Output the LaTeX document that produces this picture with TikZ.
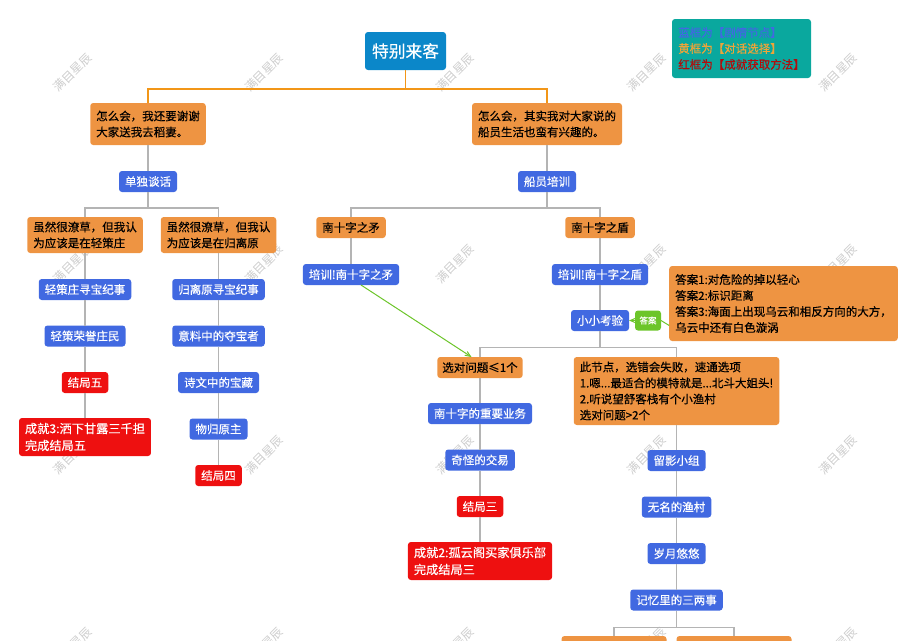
\documentclass[tikz,border=0pt]{standalone}
\usepackage{fontspec}
\setmainfont[FakeBold=0.35]{Noto Sans CJK SC}
\newfontfamily\stampfont{Noto Sans CJK SC}
\usepackage{tikz}
\usetikzlibrary{arrows,positioning}
\definecolor{rootblue}{RGB}{11, 135, 201}
\definecolor{plotblue}{RGB}{65, 105, 225}
\definecolor{talkorange}{RGB}{238, 148, 66}
\definecolor{endred}{RGB}{238, 16, 16}
\definecolor{hintgreen}{RGB}{108, 197, 42}
\definecolor{noteteal}{RGB}{10, 168, 158}
\definecolor{edgegray}{RGB}{180, 180, 180}
\definecolor{rootline}{RGB}{242, 150, 24}
\definecolor{stampgray}{RGB}{205, 205, 205}
\tikzstyle{box} = [rounded corners=3pt, outer sep=0pt, inner xsep=6pt, inner ysep=2pt, minimum height=21pt, align=left, font=\fontsize{11.5}{16}\selectfont]
\tikzstyle{scene} = [box, fill=plotblue, text=white]
\tikzstyle{talk} = [box, fill=talkorange, text=black]
\tikzstyle{finish} = [box, fill=endred, text=white]
\tikzstyle{reward} = [finish, minimum height=38pt, font=\fontsize{12.2}{17}\selectfont]
\tikzstyle{stamp} = [text=stampgray, rotate=45, font=\stampfont\fontsize{12}{14}\selectfont]
\tikzstyle{gedge} = [draw=edgegray, line width=1.2pt]
\tikzstyle{oedge} = [draw=rootline, line width=1.5pt]
\tikzstyle{hedge} = [draw=hintgreen, line width=1pt, >=angle 45, ->]
\begin{document}
\begin{tikzpicture}[x=1pt, y=-1pt]
\useasboundingbox (0,0) rectangle (917,640);

% watermarks =============================
\foreach \mx in {72.5,264,455,646.5,838}
  \foreach \my in {72.5,264,455,646.5}
    \node[stamp] (wm-\mx-\my) at (\mx,\my) {满目星辰};

% nodes
\node[box, fill=rootblue, text=white, minimum height=38pt, inner xsep=7pt, font=\fontsize{16.75}{20}\selectfont] (root) at (405.5,51) {特别来客};
\node[box, fill=noteteal, minimum width=139pt, minimum height=59pt] (note) at (741.5,48.5) {\textcolor{plotblue}{蓝框为【剧情节点】}\\\textcolor{talkorange!85!yellow}{黄框为【对话选择】}\\\textcolor{endred!75!black}{红框为【成就获取方法】}};

\node[talk, below=33pt of root, xshift=-257.5pt, minimum height=42pt] (left) {怎么会，我还要谢谢\\大家送我去稻妻。};
\node[talk, below=33pt of root, xshift=141.5pt, minimum height=42pt] (right) {怎么会，其实我对大家说的\\船员生活也蛮有兴趣的。};
\node[scene, below=26pt of left] (alone) {单独谈话};
\node[scene, below=26pt of right] (crew) {船员培训};
\coordinate[below=16pt of alone] (alonebus);
\coordinate[below=16pt of crew] (crewbus);

% left branch
\node[talk, below=25pt of alone, xshift=-63pt, minimum height=36pt] (qing) {虽然很潦草，但我认\\为应该是在轻策庄};
\node[talk, below=25pt of alone, xshift=70.5pt, minimum height=36pt] (guili) {虽然很潦草，但我认\\为应该是在归离原};
\node[scene, below=26pt of qing] (qing1) {轻策庄寻宝纪事};
\node[scene, below=25.5pt of qing1] (qing2) {轻策荣誉庄民};
\node[finish, below=25.5pt of qing2] (end5) {结局五};
\node[reward, below=25pt of end5] (ach3) {成就3:洒下甘露三千担\\完成结局五};
\node[scene, below=26pt of guili] (guili1) {归离原寻宝纪事};
\node[scene, below=25.5pt of guili1] (guili2) {意料中的夺宝者};
\node[scene, below=25.5pt of guili2] (guili3) {诗文中的宝藏};
\node[scene, below=25.5pt of guili3] (guili4) {物归原主};
\node[finish, below=25.5pt of guili4] (end4) {结局四};

% right branch
\node[talk, below=25pt of crew, xshift=-196pt] (spear) {南十字之矛};
\node[talk, below=25pt of crew, xshift=53pt] (shield) {南十字之盾};
\node[scene, below=26pt of spear] (spear1) {培训!南十字之矛};
\node[scene, below=26pt of shield] (shield1) {培训!南十字之盾};
\node[scene, below=25pt of shield1] (quiz) {小小考验};
\node[box, fill=hintgreen, text=white, right=6pt of quiz, minimum height=20pt, inner xsep=4.5pt, font=\fontsize{8.5}{10}\selectfont] (hint) {答案};
\node[talk, minimum height=75pt] (answer) at (783.5,303.5) {答案1:对危险的掉以轻心\\答案2:标识距离\\答案3:海面上出现乌云和相反方向的大方，\\乌云中还有白色漩涡};
\coordinate[below=16.5pt of quiz] (quizbus);

\node[talk, below=26pt of quiz, xshift=-120pt, inner xsep=5pt] (few) {选对问题≤1个};
\node[scene, below=25pt of few] (few1) {南十字的重要业务};
\node[scene, below=25.5pt of few1] (few2) {奇怪的交易};
\node[finish, below=25.5pt of few2] (end3) {结局三};
\node[reward, below=25pt of end3] (ach2) {成就2:孤云阁买家俱乐部\\完成结局三};
\node[talk, below=26pt of quiz, xshift=76.5pt, minimum height=68pt] (many) {此节点，选错会失败，速通选项\\1.嗯...最适合的模特就是...北斗大姐头!\\2.听说望舒客栈有个小渔村\\选对问题>2个};
\node[scene, below=25pt of many] (many1) {留影小组};
\node[scene, below=25.5pt of many1] (many2) {无名的渔村};
\node[scene, below=25.5pt of many2] (many3) {岁月悠悠};
\node[scene, below=25.5pt of many3] (many4) {记忆里的三两事};
\coordinate[below=17pt of many4] (manybus);
\node[talk, below=25.5pt of many4, xshift=-62.5pt, minimum width=105pt] (last1) {};
\node[talk, below=25.5pt of many4, xshift=57.5pt, minimum width=115pt] (last2) {};

% edges
\coordinate[below=19pt of root] (rootbus);
\path[oedge] (root) -- (rootbus);
\path[oedge] (left.north) |- (rootbus) -| (right.north);
\path[gedge] (left) -- (alone);
\path[gedge] (right) -- (crew);
\path[gedge] (alone) -- (alonebus);
\path[gedge] (crew) -- (crewbus);
\path[gedge] (qing.north) |- (alonebus) -| (guili.north);
\path[gedge] (spear.north) |- (crewbus) -| (shield.north);
\path[gedge] (qing) -- (qing1);
\path[gedge] (qing1) -- (qing2);
\path[gedge] (qing2) -- (end5);
\path[gedge] (end5) -- (ach3);
\path[gedge] (guili) -- (guili1);
\path[gedge] (guili1) -- (guili2);
\path[gedge] (guili2) -- (guili3);
\path[gedge] (guili3) -- (guili4);
\path[gedge] (guili4) -- (end4);
\path[gedge] (spear) -- (spear1);
\path[gedge] (shield) -- (shield1);
\path[gedge] (shield1) -- (quiz);
\path[gedge] (quiz) -- (quizbus);
\path[gedge] (few.north) |- (quizbus) -| (many.north);
\path[gedge] (few) -- (few1);
\path[gedge] (few1) -- (few2);
\path[gedge] (few2) -- (end3);
\path[gedge] (end3) -- (ach2);
\path[gedge] (many) -- (many1);
\path[gedge] (many1) -- (many2);
\path[gedge] (many2) -- (many3);
\path[gedge] (many3) -- (many4);
\path[gedge] (many4) -- (manybus);
\path[gedge] (last1.north) |- (manybus) -| (last2.north);
\path[hedge] ([xshift=10pt]spear1.south) -- ([xshift=-8.5pt]few.north);
\path[hedge] (hint) -- (quiz);
\path[draw=hintgreen, line width=1pt] (hint.east) -- ([yshift=-22pt]answer.west);

\end{tikzpicture}
\end{document}
